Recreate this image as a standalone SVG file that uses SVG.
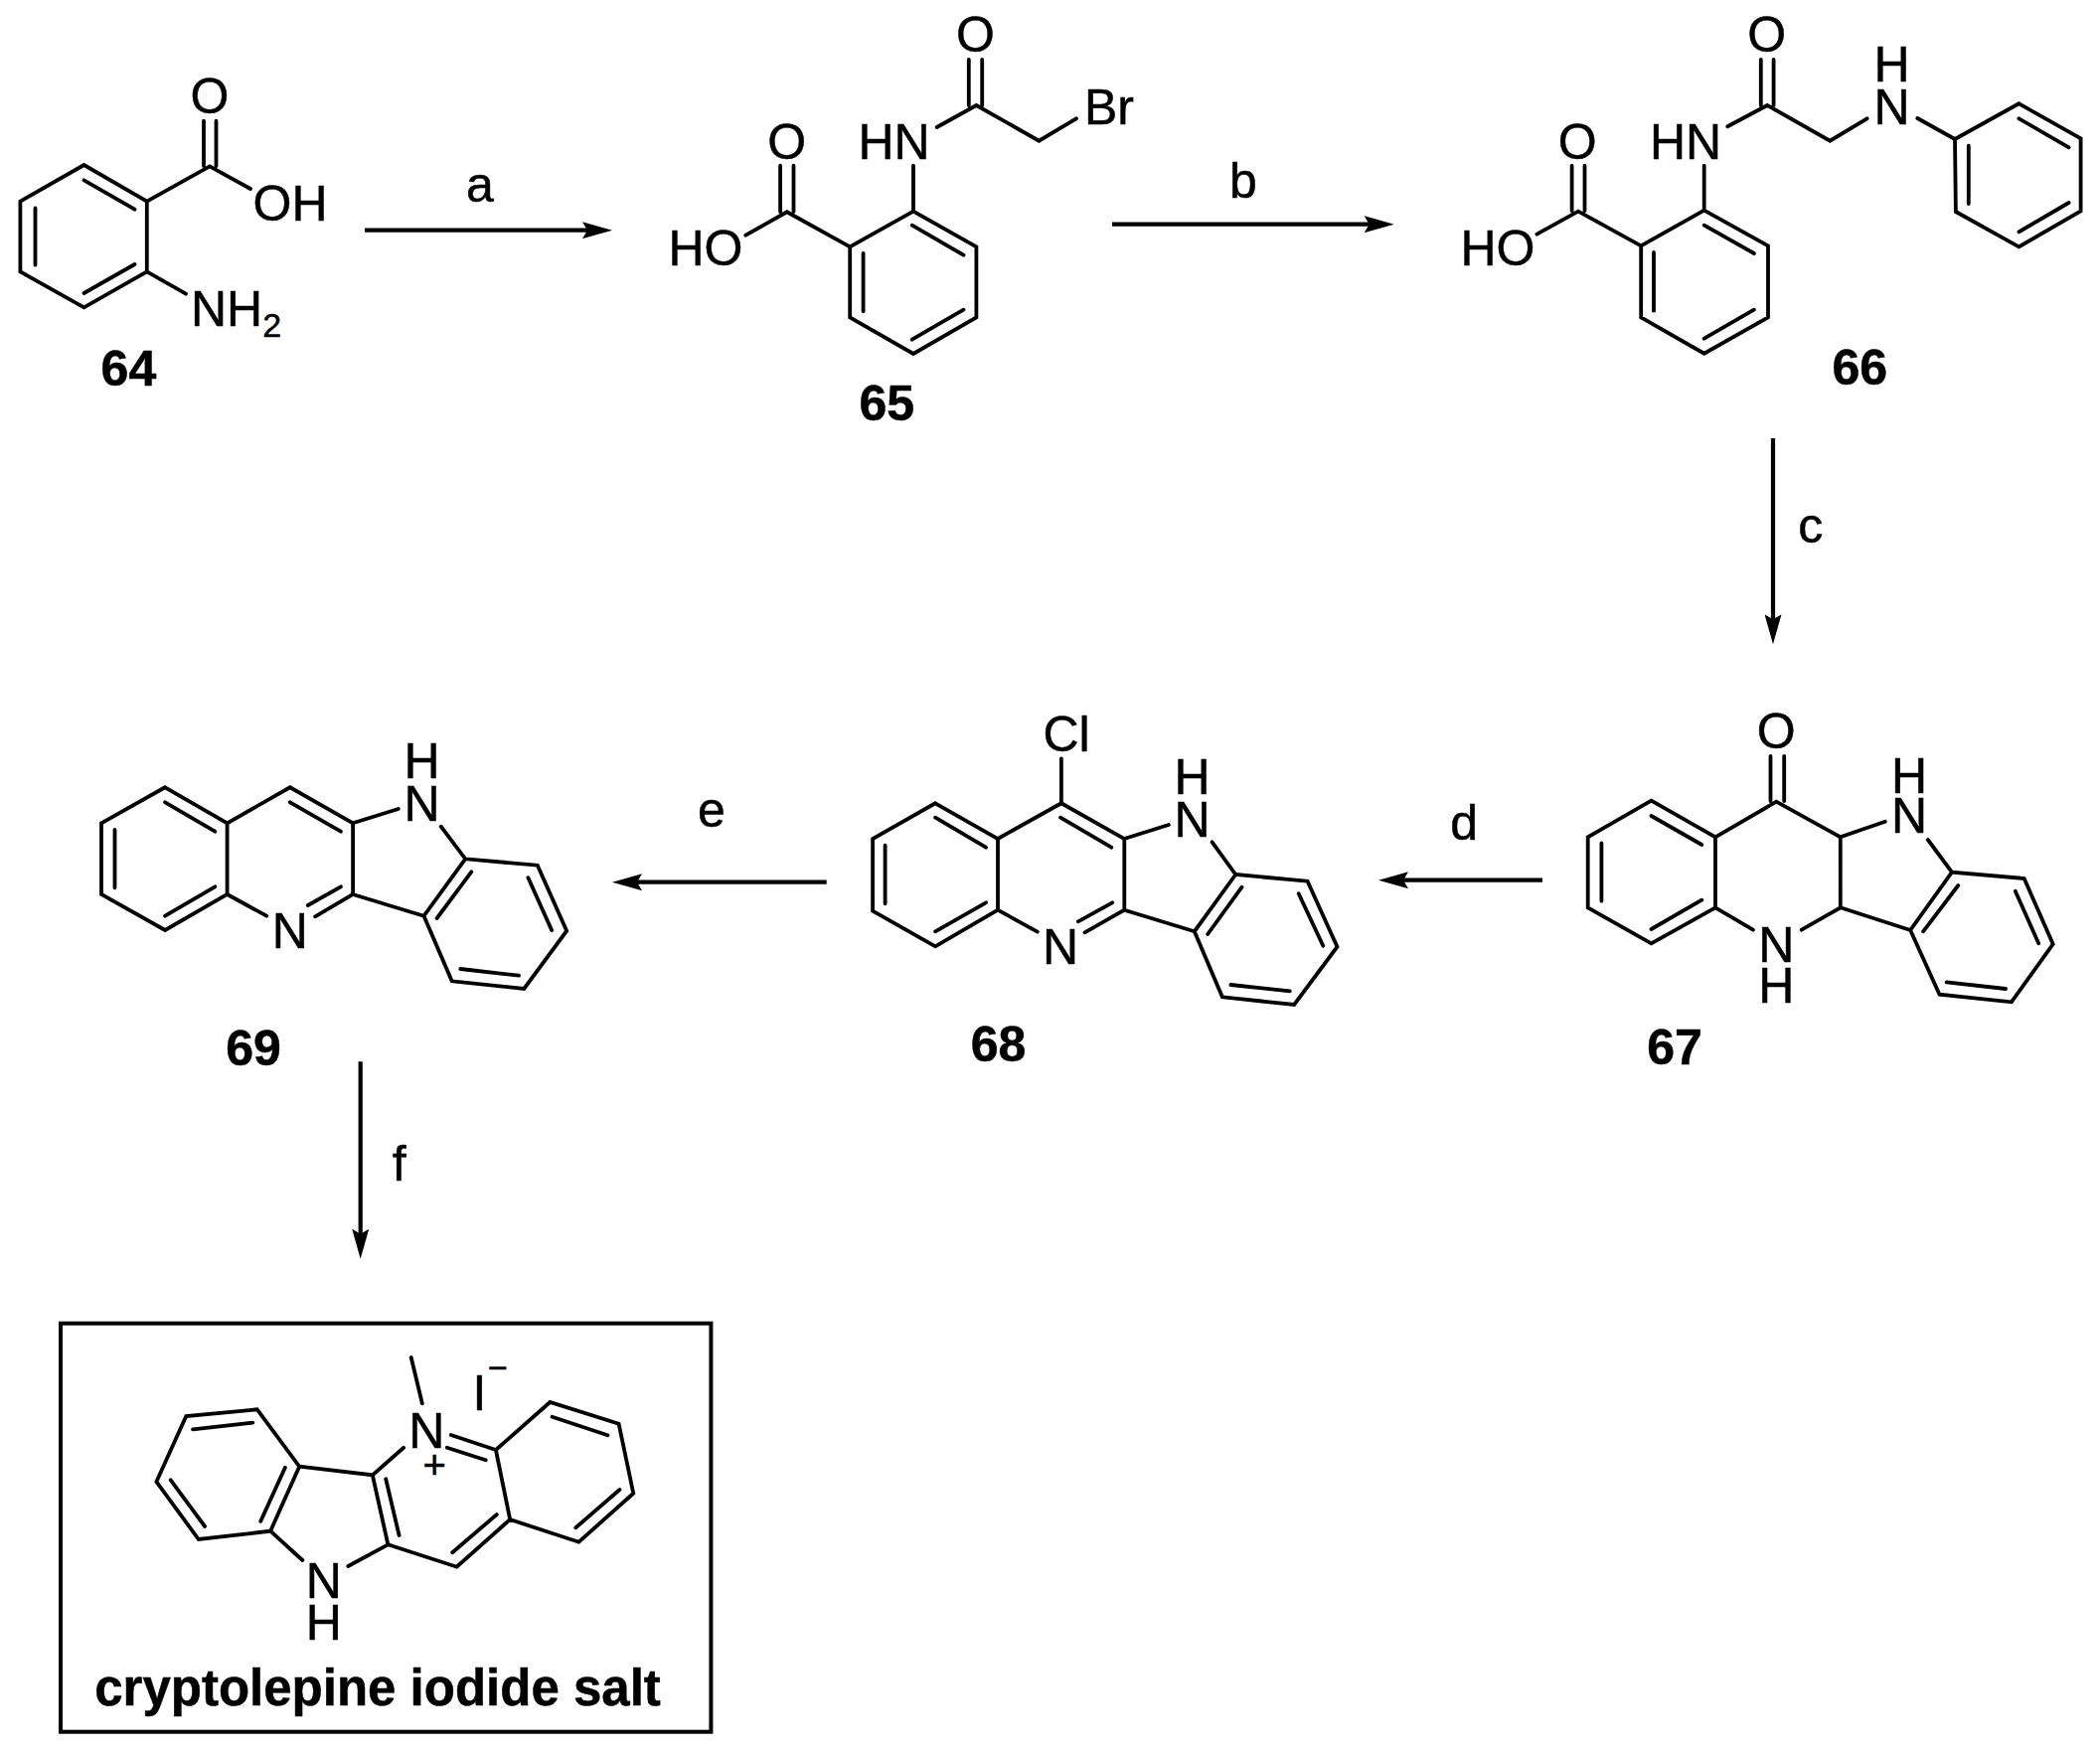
<svg xmlns="http://www.w3.org/2000/svg" width="2113" height="1763" viewBox="0 0 2113 1763">
<style>
text{font-family:"Liberation Sans",Arial,sans-serif;font-size:50px;fill:#000;stroke:#000;stroke-width:.5;text-anchor:middle}
.s{text-anchor:start}
.n{font-weight:bold}
.bd{fill:none;stroke:#000;stroke-width:3.8;stroke-linejoin:miter;stroke-linecap:round}
.ar{fill:none;stroke:#000;stroke-width:4.2}
</style>
<defs>
<marker id="head" markerUnits="userSpaceOnUse" markerWidth="30" markerHeight="17" viewBox="0 0 30 17" refX="5" refY="8.5" orient="auto">
<path d="M0 0L30 8.5L0 17L5 8.5Z" fill="#000"/>
</marker>
</defs>
<rect width="2113" height="1763" fill="#fff"/>
<g id="connectors">
<path class="ar" marker-end="url(#head)" d="M367 231.7H591"/>
<path class="ar" marker-end="url(#head)" d="M1119 225.7H1377.7"/>
<path class="ar" marker-end="url(#head)" d="M1784 441V623.3"/>
<path class="ar" marker-end="url(#head)" d="M1552 885.7H1412"/>
<path class="ar" marker-end="url(#head)" d="M831.7 887.7H641"/>
<path class="ar" marker-end="url(#head)" d="M362.7 1068.3V1241.7"/>
<text x="482.9" y="203.3">a</text>
<text x="1251" y="199">b</text>
<text x="1821.7" y="546">c</text>
<text x="1473.2" y="845">d</text>
<text x="716" y="832.3">e</text>
<text x="401.7" y="1188.3">f</text>
</g>
<g id="m64">
<path class="bd" d="M84.5 166L147.8 202.7V273.3L84.5 309.3L20.4 273.3V202.7ZM84.5 181.3L135.5 210.7M35.5 209.3V266.7M84.5 295L135.5 266M147.8 202.7L211 167.3L252 190M205 121.7V167M217.5 121.7V167M147.8 273.3L187 295.7"/>
<text x="211" y="113.5">O</text>
<text class="s" x="254.5" y="221.7">OH</text>
<text class="s" x="192" y="328.3">NH<tspan dy="11" style="font-size:34px">2</tspan></text>
<text class="n" x="129.4" y="388.3">64</text>
</g>
<g id="m65">
<path class="bd" d="M919 212.7L982.4 248.3V319.3L919 356L855.2 319.3V248.3ZM917.7 226.7L969.5 256.7M868.6 255V313.3M917.7 341.7L969.5 311.7M855.2 248.3L791.8 213.3L750.3 236.7M785.1 166.7V213M798.5 166.7V213M919 212.7V166.7M942.7 128L982.4 106L1045.4 141.7L1082.9 119.3M974.8 60V106M988.2 60V106"/>
<text x="791.8" y="159.5">O</text>
<text x="710" y="267.3">HO</text>
<text x="899.6" y="160">HN</text>
<text x="981.5" y="52">O</text>
<text class="s" x="1091" y="125">Br</text>
<text class="n" x="892.2" y="423.3">65</text>
</g>
<g id="m66">
<path class="bd" d="M1714.7 211.7L1779 247.3V319.3L1714.7 355.7L1651.2 319.3V247.3ZM1714.7 226.7L1764.9 255M1664 254V312.7M1714.7 340.7L1764.9 311.7M1651.2 247.3L1588 212.7L1546.4 235.7M1581.6 166.7V212M1594.5 166.7V212M1714.7 211.7V166.7M1738.3 127.3L1778.2 106L1841.3 141.7L1878.6 119.3M1771.8 60V106M1784.6 60V106M1929.3 119L1967 140L2031.4 104.3L2093.6 139.3V212.3L2031.4 248.3L1967.9 213L1967 140M2031.4 119.3L2081.6 148.3M1980.8 146.7V205M2031.4 233.3L2081.6 204"/>
<text x="1587.2" y="159.5">O</text>
<text x="1507" y="267.3">HO</text>
<text x="1696" y="159.5">HN</text>
<text x="1777.8" y="52">O</text>
<text x="1903.5" y="125">N</text>
<text x="1903.5" y="82.3">H</text>
<text class="n" x="1871.3" y="386.7">66</text>
</g>
<g id="m67">
<path class="bd" d="M1661.5 805.7L1726 842.3V913.3L1661.5 949.3L1597.7 913.3V842.3ZM1661.5 821L1712.3 850M1611.4 848.3V906.7M1661.5 935L1712.3 905.7M1726 842.3L1787.3 806.7L1851.8 842.3V913.3L1812.7 935.7M1726 913.3L1763.9 935.7M1781.5 761V806M1795.2 761V806M1851.8 842.3L1896.8 826.7M1939.8 845L1964 877.7L2036.7 884L2065.7 950L2023.9 1008.3L1951.5 1000.7L1922.2 936L1964 877.7M1970.3 891L1935.1 937.3M2027.8 896.7L2051.2 949.3M1958.6 988.3L2018 995M1922.2 936L1851.8 913.3"/>
<text x="1787.3" y="753.3">O</text>
<text x="1921" y="838.3">N</text>
<text x="1921" y="797.7">H</text>
<text x="1787.3" y="968.3">N</text>
<text x="1787.3" y="1009.3">H</text>
<text class="n" x="1685" y="1071">67</text>
</g>
<g id="m68">
<path class="bd" d="M941.1 808.3L1004 844V915.7L941.1 952.3L878.1 916.7V844ZM941.1 822.7L992 852.7M890.6 850.7V909.3M941.1 937.3L992 908.3M1004 844L1067.9 808.3L1131.3 844V915.7L1091.5 938.3M1004 915.7L1043.8 937.7M1067.9 808.3V763.3M1067 822.7L1118.3 852.7M1119.2 908.3L1084.8 927.3M1131.3 844L1175.9 830M1219.6 847.3L1243.3 880L1315.6 886.7L1345.5 952.7L1302.2 1011L1229.9 1003.3L1201.8 937.3L1243.3 880M1249.6 892.7L1215.2 940M1306.7 899.3L1331.3 951.7M1238.4 991L1297.8 997.3M1201.8 937.3L1131.3 915.7"/>
<text x="1073" y="755.7">Cl</text>
<text x="1199.6" y="841.7">N</text>
<text x="1199.6" y="799.3">H</text>
<text x="1067" y="970">N</text>
<text class="n" x="1004.5" y="1068.3">68</text>
</g>
<g id="m69">
<path class="bd" d="M166.1 792.3L228.6 828.3V900L166.1 936L102 900V828.3ZM166.1 807.3L216.3 836.7M115.5 835V893.3M166.1 921.7L216.3 892.3M228.6 828.3L291.8 792.3L355.1 828.3V900L317.1 922.3M228.6 900L268.2 921.7M291.8 807.3L342.9 836.7M342.9 892.3L309.8 911M355.1 828.3L400.8 814M443.7 831.7L468.2 864.3L540.8 870.7L570.2 936.7L527.3 995L454.7 987.3L426.5 921.7L468.2 864.3M474.3 877.3L439.6 924M531.4 883.3L555.1 936M463.3 975L522 981.7M426.5 921.7L355.1 900"/>
<text x="424.5" y="825.7">N</text>
<text x="424.5" y="783.3">H</text>
<text x="291.8" y="954">N</text>
<text class="n" x="255.1" y="1071.7">69</text>
</g>
<g id="cryptolepine">
<rect x="61" y="1331.7" width="654.4" height="411" fill="none" stroke="#000" stroke-width="4"/>
<path class="bd" d="M258.8 1418.3L301.2 1475.7L272.1 1540.7L199.8 1549L157.4 1491L187.3 1425ZM194 1438.3L254.3 1431.7M286.9 1476.7L262.3 1530.7M171.7 1489.3L206.1 1536M301.2 1475.7L374.8 1484.3L390.4 1554.3L350.3 1576M272.1 1540.7L304.3 1570M388.2 1488.3L401.6 1545M374.8 1484.3L406.1 1456.7M424.8 1412.3L413.7 1366M453.8 1444L498.9 1459M449.8 1456.7L488.7 1469.3M498.9 1459L553.4 1411L622.6 1432.7L637.3 1502.7L582.4 1551.7L513.2 1529L498.9 1459M555.6 1425.7L611.4 1444.3M623.5 1499L579.3 1537.3M499.8 1524L455.2 1562.3M513.2 1529L459.6 1576.7L390.4 1554.3"/>
<text x="429.3" y="1457">N</text>
<text x="437.3" y="1488" style="font-size:40px">+</text>
<text x="482.4" y="1419.3">I</text>
<text x="500.9" y="1388" style="font-size:34px">−</text>
<text x="325.7" y="1608.3">N</text>
<text x="325.7" y="1650">H</text>
<text class="n" x="380" y="1716" style="font-size:51px">cryptolepine iodide salt</text>
</g>
</svg>
